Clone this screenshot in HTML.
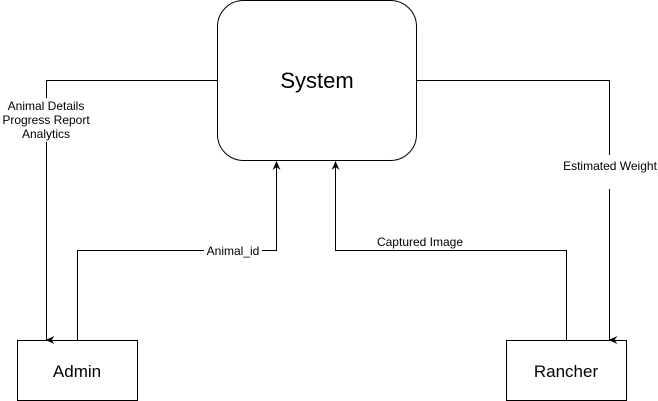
<!DOCTYPE html>
<html><head><style>body{margin:0;background:#fff}svg{display:block}</style></head><body>
<svg width="658" height="401" xmlns="http://www.w3.org/2000/svg" font-family="Liberation Sans, Arial, sans-serif">
<defs><marker id="a" markerWidth="10" markerHeight="10" refX="5" refY="8" orient="auto" markerUnits="userSpaceOnUse"><path d="M1,0 L5,9 L9,0 L5,3 Z" fill="#000"/></marker>
<marker id="u" markerWidth="10" markerHeight="10" refX="5" refY="1" markerUnits="userSpaceOnUse"><path d="M1,9 L5,0 L9,9 L5,6 Z" fill="#000"/></marker></defs>
<rect x="217.5" y="0.5" width="199" height="160" rx="26" fill="#fff" stroke="#000"/>
<text x="317" y="88" font-size="22" text-anchor="middle">System</text>
<rect x="17.5" y="340.5" width="120" height="60" fill="#fff" stroke="#000"/>
<text x="77" y="377" font-size="17" text-anchor="middle">Admin</text>
<rect x="506.5" y="340.5" width="120" height="60" fill="#fff" stroke="#000"/>
<text x="566" y="377" font-size="17" text-anchor="middle">Rancher</text>
<g fill="none" stroke="#000" stroke-width="1">
<polyline points="217,80.5 46.5,80.5 46.5,340" marker-end="url(#a)"/>
<polyline points="77.5,340 77.5,250.5 276.5,250.5 276.5,162" marker-end="url(#u)"/>
<polyline points="566.5,340 566.5,250.5 335.5,250.5 335.5,162" marker-end="url(#u)"/>
<polyline points="416,80.5 609.5,80.5 609.5,340" marker-end="url(#a)"/>
</g>
<g font-size="12" text-anchor="middle">
<rect x="4" y="98" width="86" height="44" fill="#fff"/>
<text x="46" y="110">Animal Details</text><text x="46" y="124">Progress Report</text><text x="46" y="138">Analytics</text>
<rect x="204" y="244" width="58" height="14" fill="#fff"/><text x="233" y="255">Animal_id</text>
<rect x="374" y="236" width="92" height="14" fill="#fff"/><text x="420" y="246">Captured Image</text>
<rect x="559" y="155" width="100" height="34" fill="#fff"/><text x="610" y="170">Estimated Weight</text>
</g>
</svg>
</body></html>
